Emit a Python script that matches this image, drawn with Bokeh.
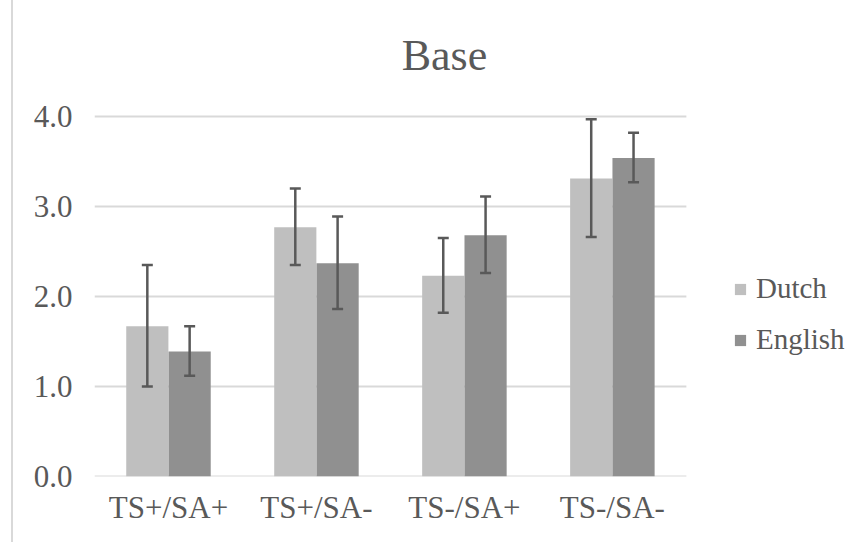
from bokeh.plotting import figure
from bokeh.models import ColumnDataSource, Range1d, Whisker, TeeHead, Legend, LegendItem, Label
from bokeh.transform import dodge
from bokeh.embed import file_html
from bokeh.resources import INLINE

title_text = "Base"
categories = ["TS+/SA+", "TS+/SA-", "TS-/SA+", "TS-/SA-"]
dutch = [1.67, 2.77, 2.23, 3.31]
dutch_lower = [1.00, 2.35, 1.82, 2.66]
dutch_upper = [2.35, 3.20, 2.65, 3.97]
english = [1.39, 2.37, 2.68, 3.54]
english_lower = [1.12, 1.86, 2.26, 3.27]
english_upper = [1.67, 2.89, 3.11, 3.82]
y_ticks = [0.0, 1.0, 2.0, 3.0, 4.0]

idx = list(range(len(categories)))
src = ColumnDataSource(dict(
    idx=idx, dutch=dutch, dl=dutch_lower, du=dutch_upper,
    english=english, el=english_lower, eu=english_upper,
))

FONT = "Liberation Serif"
TXT = "#595959"
GRID = "#d9d9d9"

# frame covers the whole canvas right/top so title and legend (drawn inside) are not clipped
# 4.0 gridline sits 116px below the top, 0.0 sits 476px below the top
y_top = 4.0 * 476 / 360
p = figure(
    width=834, height=542, output_backend="svg", toolbar_location=None,
    x_range=Range1d(-0.5, 4.589), y_range=Range1d(0, y_top),
    min_border_left=81, min_border_right=0, min_border_bottom=66, min_border_top=0,
    styles={"margin-left": "11px", "border-left": "2px solid #d9d9d9"},
)
p.outline_line_color = None

p.add_layout(Label(x=350, y=421, x_units="screen", y_units="screen", text=title_text,
                   text_font=FONT, text_font_size="44px", text_color=TXT,
                   text_align="center", text_baseline="middle"))

p.xgrid.visible = False
p.ygrid.visible = False
grid_src = ColumnDataSource(dict(y=y_ticks,
                                 x0=[-0.5] * len(y_ticks),
                                 x1=[len(categories) - 0.5] * len(y_ticks)))
p.segment(x0="x0", x1="x1", y0="y", y1="y", source=grid_src,
          line_color=GRID, line_width=2)

off = 0.143
bw = 0.285
r1 = p.vbar(x=dodge("idx", -off), top="dutch", width=bw, source=src,
            fill_color="#bfbfbf", line_color=None)
r2 = p.vbar(x=dodge("idx", off), top="english", width=bw, source=src,
            fill_color="#909090", line_color=None)

for base, lo, up in [(-off, "dl", "du"), (off, "el", "eu")]:
    w = Whisker(base=dodge("idx", base), lower=lo, upper=up, source=src,
                level="overlay", line_color=TXT, line_width=2.5,
                upper_head=TeeHead(size=11, line_color=TXT, line_width=2.5),
                lower_head=TeeHead(size=11, line_color=TXT, line_width=2.5))
    p.add_layout(w)

p.yaxis.ticker = y_ticks
p.yaxis.major_label_overrides = {t: f"{t:.1f}" for t in y_ticks}
p.yaxis.axis_line_color = None
p.yaxis.major_tick_line_color = None
p.yaxis.minor_tick_line_color = None
p.yaxis.major_label_standoff = 16
p.yaxis.major_label_text_font = FONT
p.yaxis.major_label_text_font_size = "31px"
p.yaxis.major_label_text_color = TXT

p.xaxis.ticker = idx
p.xaxis.major_label_overrides = {i: c for i, c in zip(idx, categories)}
p.xaxis.axis_line_color = None
p.xaxis.major_tick_line_color = None
p.xaxis.minor_tick_line_color = None
p.xaxis.major_label_standoff = 7
p.xaxis.major_label_text_font = FONT
p.xaxis.major_label_text_font_size = "31px"
p.xaxis.major_label_text_color = TXT

legend = Legend(items=[LegendItem(label="Dutch", renderers=[r1]),
                       LegendItem(label="English", renderers=[r2])],
                location=(639, 120), orientation="vertical",
                padding=0, margin=0, spacing=18, glyph_width=14, glyph_height=14,
                label_standoff=9, border_line_color=None, background_fill_alpha=0,
                label_text_font=FONT, label_text_font_size="29px", label_text_color=TXT)
p.add_layout(legend)

open("out.html", "w").write(file_html(p, INLINE))
